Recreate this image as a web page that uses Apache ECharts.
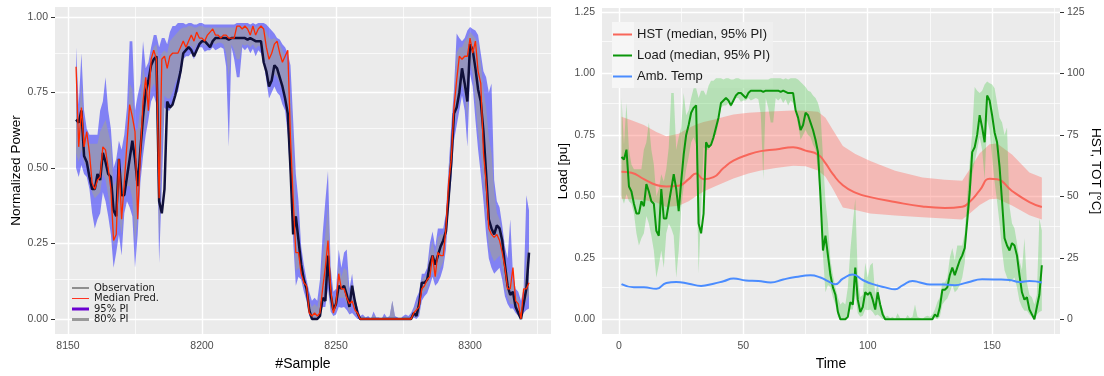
<!DOCTYPE html>
<html>
<head>
<meta charset="utf-8">
<script src="https://cdn.jsdelivr.net/npm/echarts@6/dist/echarts.min.js"></script>
<style>
  html, body { margin: 0; padding: 0; background: #ffffff; }
  #chart { width: 1104px; height: 376px; }
</style>
</head>
<body>
<div id="chart"></div>
<script>
// ---------------- Left panel: normalized power per sample ----------------
const firstSample = 8153;

const observation = [
  0.66,0.65,0.69,0.54,0.52,0.47,0.43,0.43,0.48,0.46,
  0.55,0.52,0.48,0.47,0.36,0.34,0.53,0.41,0.41,0.47,
  0.53,0.59,0.53,0.44,0.56,0.67,0.75,0.79,0.84,0.86,
  0.87,0.39,0.35,0.43,0.72,0.70,0.71,0.74,0.78,0.82,
  0.88,0.89,0.90,0.89,0.87,0.89,0.91,0.92,0.92,0.91,
  0.90,0.92,0.93,0.93,0.93,0.93,0.93,0.925,0.93,0.93,
  0.93,0.93,0.93,0.93,0.925,0.93,0.925,0.92,0.92,0.92,
  0.85,0.82,0.77,0.79,0.84,0.83,0.80,0.77,0.73,0.68,
  0.50,0.28,0.34,0.26,0.18,0.13,0.10,0.03,0.00,0.00,
  0.00,0.01,0.07,0.06,0.21,0.08,0.03,0.05,0.11,0.10,
  0.11,0.08,0.04,0.11,0.06,0.02,0.00,0.00,0.00,0.00,
  0.00,0.00,0.00,0.00,0.00,0.00,0.00,0.00,0.00,0.00,
  0.00,0.00,0.00,0.00,0.00,0.00,0.02,0.01,0.05,0.12,
  0.12,0.13,0.18,0.21,0.18,0.21,0.24,0.26,0.29,0.40,
  0.52,0.68,0.70,0.75,0.83,0.78,0.72,0.91,0.89,0.83,
  0.76,0.72,0.62,0.48,0.33,0.30,0.28,0.31,0.30,0.26,
  0.18,0.11,0.08,0.09,0.04,0.02,0.00,0.05,0.10,0.22
];

const medianPred = [
  0.835,0.57,0.70,0.57,0.62,0.55,0.45,0.43,0.46,0.47,
  0.57,0.56,0.50,0.43,0.26,0.28,0.53,0.33,0.45,0.58,
  0.71,0.67,0.62,0.33,0.55,0.72,0.80,0.69,0.86,0.89,
  0.86,0.40,0.86,0.87,0.83,0.87,0.88,0.88,0.88,0.90,
  0.92,0.90,0.92,0.94,0.92,0.95,0.93,0.93,0.92,0.94,
  0.95,0.96,0.94,0.94,0.93,0.94,0.94,0.93,0.93,0.93,
  0.97,0.97,0.96,0.97,0.96,0.94,0.97,0.94,0.96,0.97,
  0.96,0.90,0.86,0.88,0.91,0.92,0.88,0.85,0.87,0.89,
  0.60,0.40,0.22,0.22,0.15,0.12,0.11,0.02,0.01,0.02,
  0.01,0.02,0.10,0.17,0.26,0.10,0.02,0.05,0.15,0.10,
  0.10,0.07,0.05,0.06,0.03,0.02,0.00,0.00,0.00,0.00,
  0.00,0.00,0.00,0.00,0.00,0.00,0.00,0.00,0.00,0.00,
  0.00,0.00,0.00,0.00,0.00,0.00,0.02,0.03,0.04,0.10,
  0.11,0.13,0.14,0.21,0.14,0.22,0.21,0.21,0.30,0.45,
  0.53,0.70,0.79,0.87,0.86,0.87,0.87,0.93,0.88,0.92,
  0.82,0.78,0.55,0.45,0.30,0.28,0.27,0.28,0.26,0.22,
  0.17,0.10,0.10,0.17,0.06,0.05,0.00,0.10,0.10,0.12
];

const pi95High = [
  0.90,0.71,0.88,0.69,0.63,0.61,0.61,0.61,0.61,0.69,
  0.72,0.80,0.69,0.63,0.50,0.53,0.59,0.56,0.61,0.70,
  0.92,0.92,0.69,0.74,0.78,0.92,0.83,0.85,0.90,0.94,
  0.94,0.90,0.93,0.93,0.91,0.95,0.97,0.97,0.98,0.98,
  0.98,0.975,0.98,0.98,0.975,0.975,0.98,0.98,0.975,0.975,
  0.975,0.975,0.975,0.975,0.975,0.975,0.975,0.975,0.975,0.975,
  0.98,0.98,0.98,0.98,0.98,0.975,0.98,0.975,0.98,0.98,
  0.98,0.975,0.965,0.955,0.945,0.93,0.925,0.91,0.90,0.88,
  0.84,0.66,0.48,0.39,0.24,0.18,0.13,0.09,0.06,0.07,
  0.06,0.13,0.28,0.39,0.49,0.17,0.09,0.10,0.23,0.17,
  0.22,0.23,0.10,0.15,0.07,0.04,0.01,0.015,0.005,0.01,
  0.00,0.025,0.005,0.005,0.00,0.018,0.005,0.01,0.06,0.01,
  0.005,0.00,0.01,0.015,0.01,0.02,0.04,0.07,0.09,0.15,
  0.15,0.17,0.25,0.29,0.24,0.30,0.30,0.30,0.35,0.50,
  0.64,0.76,0.945,0.93,0.92,0.93,0.955,0.967,0.96,0.955,
  0.94,0.88,0.82,0.80,0.75,0.78,0.46,0.39,0.37,0.31,
  0.24,0.20,0.33,0.15,0.10,0.09,0.06,0.10,0.41,0.36
];

const pi95Low = [
  0.50,0.47,0.51,0.48,0.47,0.43,0.35,0.30,0.33,0.35,
  0.42,0.39,0.34,0.28,0.17,0.22,0.28,0.21,0.35,0.39,
  0.37,0.34,0.17,0.28,0.45,0.54,0.61,0.66,0.72,0.74,
  0.71,0.185,0.44,0.70,0.69,0.69,0.72,0.75,0.75,0.80,
  0.86,0.87,0.87,0.88,0.86,0.89,0.90,0.90,0.885,0.89,
  0.89,0.90,0.89,0.895,0.90,0.895,0.835,0.57,0.90,0.86,
  0.80,0.80,0.90,0.89,0.90,0.88,0.895,0.87,0.89,0.88,
  0.85,0.79,0.73,0.75,0.77,0.75,0.74,0.71,0.69,0.61,
  0.45,0.26,0.11,0.14,0.13,0.09,0.06,0.01,0.00,0.00,
  0.00,0.02,0.04,0.04,0.10,0.025,0.01,0.015,0.04,0.037,
  0.04,0.03,0.015,0.02,0.01,0.00,0.00,0.00,0.00,0.00,
  0.00,0.00,0.00,0.00,0.00,0.00,0.00,0.00,0.00,0.00,
  0.00,0.00,0.00,0.00,0.00,0.00,0.005,0.00,0.01,0.06,
  0.075,0.085,0.11,0.14,0.11,0.12,0.14,0.17,0.23,0.37,
  0.46,0.59,0.64,0.69,0.74,0.69,0.57,0.81,0.77,0.66,
  0.56,0.48,0.39,0.28,0.20,0.17,0.15,0.16,0.17,0.13,
  0.075,0.05,0.035,0.035,0.02,0.01,0.00,0.02,0.03,0.035
];

const pi80High = [
  0.80,0.65,0.78,0.62,0.59,0.58,0.58,0.58,0.58,0.62,
  0.64,0.66,0.62,0.58,0.44,0.46,0.52,0.48,0.53,0.62,
  0.78,0.76,0.62,0.63,0.70,0.84,0.78,0.80,0.87,0.90,
  0.91,0.86,0.88,0.89,0.88,0.92,0.93,0.94,0.95,0.96,
  0.965,0.965,0.97,0.97,0.965,0.965,0.97,0.97,0.965,0.965,
  0.965,0.965,0.965,0.965,0.965,0.965,0.965,0.965,0.965,0.965,
  0.97,0.97,0.97,0.97,0.97,0.965,0.97,0.965,0.97,0.97,
  0.965,0.95,0.93,0.925,0.93,0.92,0.91,0.89,0.87,0.85,
  0.74,0.55,0.38,0.30,0.20,0.15,0.11,0.06,0.04,0.05,
  0.04,0.08,0.20,0.28,0.38,0.13,0.06,0.08,0.18,0.14,
  0.17,0.16,0.08,0.12,0.05,0.03,0.005,0.01,0.003,0.005,
  0.00,0.015,0.003,0.003,0.00,0.01,0.003,0.008,0.06,0.005,
  0.003,0.00,0.005,0.01,0.005,0.01,0.03,0.05,0.07,0.13,
  0.14,0.15,0.22,0.26,0.21,0.27,0.28,0.28,0.32,0.48,
  0.60,0.72,0.88,0.90,0.90,0.92,0.93,0.95,0.94,0.93,
  0.91,0.85,0.76,0.70,0.60,0.55,0.42,0.35,0.33,0.28,
  0.21,0.16,0.14,0.12,0.08,0.07,0.04,0.08,0.20,0.24
];

const pi80Low = [
  0.55,0.52,0.56,0.52,0.50,0.47,0.42,0.40,0.41,0.42,
  0.48,0.46,0.41,0.36,0.24,0.28,0.34,0.28,0.40,0.44,
  0.44,0.40,0.25,0.34,0.50,0.60,0.66,0.70,0.76,0.78,
  0.76,0.26,0.55,0.74,0.73,0.73,0.75,0.78,0.80,0.84,
  0.89,0.895,0.90,0.905,0.89,0.91,0.915,0.915,0.905,0.91,
  0.91,0.915,0.91,0.915,0.915,0.91,0.88,0.80,0.91,0.89,
  0.86,0.86,0.91,0.905,0.91,0.90,0.91,0.895,0.905,0.90,
  0.87,0.82,0.77,0.79,0.81,0.80,0.78,0.76,0.73,0.66,
  0.52,0.32,0.16,0.17,0.15,0.11,0.08,0.02,0.00,0.00,
  0.00,0.02,0.05,0.06,0.14,0.04,0.015,0.03,0.07,0.07,
  0.07,0.05,0.02,0.06,0.02,0.01,0.00,0.00,0.00,0.00,
  0.00,0.00,0.00,0.00,0.00,0.00,0.00,0.00,0.00,0.00,
  0.00,0.00,0.00,0.00,0.00,0.00,0.01,0.005,0.02,0.08,
  0.09,0.10,0.13,0.16,0.13,0.15,0.17,0.19,0.26,0.40,
  0.49,0.63,0.68,0.74,0.78,0.74,0.66,0.85,0.81,0.72,
  0.62,0.55,0.45,0.35,0.24,0.21,0.19,0.20,0.21,0.17,
  0.10,0.07,0.05,0.05,0.03,0.02,0.00,0.04,0.06,0.08
];

// ---------------- Right panel: load, hot-spot and ambient temperature ----------------
// The load trace is the same observed sequence, indexed by time step 1..N.
const load = observation;
const loadLow = pi95Low;
const loadHigh = pi95High;

const hstTime   = [1, 5, 10, 15, 19, 24, 28, 31, 34, 38, 42, 46, 52, 57, 63, 70, 75, 80, 83, 86, 90, 95, 101, 111, 122, 131, 138, 141, 145, 149, 152, 158, 165, 170];
const hstMedian = [60.0, 59.6, 57.0, 54.6, 54.0, 54.3, 57.0, 59.3, 57.0, 57.8, 61.5, 64.5, 67.0, 68.4, 69.1, 70.0, 68.6, 67.0, 63.5, 59.0, 54.5, 51.5, 49.7, 47.7, 45.9, 45.3, 45.8, 47.8, 52.4, 57.2, 57.0, 52.2, 47.7, 45.7];
const hstHigh   = [82.4, 81.0, 79.0, 76.2, 74.4, 75.5, 77.8, 79.2, 80.2, 81.2, 82.3, 83.3, 84.0, 84.3, 84.6, 84.9, 84.8, 84.4, 82.0, 77.0, 70.5, 67.2, 64.4, 60.4, 57.7, 56.8, 56.4, 61.0, 67.5, 71.2, 71.5, 67.0, 59.7, 57.7];
const hstLow    = [49.0, 48.8, 48.5, 47.5, 45.7, 46.2, 48.0, 50.0, 52.0, 53.8, 55.5, 57.3, 59.3, 60.5, 61.5, 62.4, 62.2, 60.5, 58.0, 53.0, 45.5, 44.5, 43.0, 42.2, 41.5, 41.0, 40.6, 43.0, 46.5, 48.8, 49.0, 46.3, 42.3, 40.6];

const ambTime = [1, 6, 10, 15, 19, 23, 28, 33, 38, 42, 46, 51, 56, 61, 66, 71, 77, 81, 84, 87, 90, 94, 98, 102, 107, 111, 114, 118, 121, 125, 130, 135, 140, 146, 152, 157, 161, 165, 170];
const ambTemp = [14.3, 13.0, 13.0, 12.4, 14.8, 15.2, 14.5, 13.6, 14.5, 15.5, 16.6, 15.8, 15.6, 15.0, 16.2, 17.2, 17.9, 17.0, 15.5, 14.3, 16.5, 18.2, 16.0, 14.3, 13.0, 12.2, 13.8, 15.6, 15.0, 14.2, 14.2, 13.9, 15.0, 16.3, 16.2, 16.0, 15.2, 15.6, 15.0];

// ---------------- Axis ticks ----------------
const sampleTicks = [8150, 8200, 8250, 8300];
const sampleMinor = [8175, 8225, 8275, 8325];
const powerTicks  = [0, 0.25, 0.5, 0.75, 1];
const powerMinor  = [0.125, 0.375, 0.625, 0.875];
const timeTicks   = [0, 50, 100, 150];
const timeMinor   = [25, 75, 125, 175];
const loadTicks   = [0, 0.25, 0.5, 0.75, 1, 1.25];
const loadMinor   = [0.125, 0.375, 0.625, 0.875, 1.125];
const tempTicks   = [0, 25, 50, 75, 100, 125];

const sampleNo = observation.map((_, i) => firstSample + i);
const timeStep = load.map((_, i) => i + 1);
const pairs = (xs, ys) => xs.map((x, i) => [x, ys[i]]);

const FONT = 'Liberation Sans';
const PANEL_BG = '#EBEBEB';

// Filled band between two curves, drawn as one polygon through the axis scales.
function band(name, xs, lo, hi, fill, xi, yi) {
  return {
    name: name,
    type: 'custom',
    coordinateSystem: 'cartesian2d',
    xAxisIndex: xi, yAxisIndex: yi,
    clip: true,
    silent: true,
    itemStyle: { color: fill },
    data: [[xs[0], lo[0]]],
    renderItem: function (params, api) {
      const pts = [];
      for (let i = 0; i < xs.length; i++) pts.push(api.coord([xs[i], hi[i]]));
      for (let i = xs.length - 1; i >= 0; i--) pts.push(api.coord([xs[i], lo[i]]));
      return { type: 'polygon', shape: { points: pts }, style: { fill: fill } };
    }
  };
}

// White major/minor grid lines beneath the data.
function gridLines(xi, yi, xMajor, xMinor, yMajor, yMinor) {
  const major = { color: '#ffffff', width: 1.4, type: 'solid' };
  const minor = { color: '#ffffff', width: 0.7, type: 'solid' };
  return {
    type: 'line', xAxisIndex: xi, yAxisIndex: yi, data: [], z: 1, silent: true,
    markLine: {
      z: 1,
      silent: true, symbol: ['none', 'none'], label: { show: false }, animation: false,
      emphasis: { disabled: true },
      data: [].concat(
        xMinor.map(v => ({ xAxis: v, lineStyle: minor })),
        yMinor.map(v => ({ yAxis: v, lineStyle: minor })),
        xMajor.map(v => ({ xAxis: v, lineStyle: major })),
        yMajor.map(v => ({ yAxis: v, lineStyle: major }))
      )
    }
  };
}

function valueAxis(extra) {
  const ticks = extra.ticks;
  const base = {
    type: 'value',
    nameLocation: 'middle',
    nameTextStyle: { fontFamily: FONT, fontSize: 13.5, color: '#000' },
    axisLine: { show: false },
    axisTick: { show: true, length: 4, lineStyle: { color: '#333', width: 1 }, customValues: ticks },
    axisLabel: { customValues: ticks, color: '#4D4D4D', fontFamily: FONT, fontSize: 10.5, margin: 7,
                 formatter: extra.fmt || (v => String(v)) },
    splitLine: { show: false },
    minorSplitLine: { show: false }
  };
  delete extra.ticks; delete extra.fmt;
  return Object.assign(base, extra);
}

const thin = w => 'path://M0 0H' + w + 'V1H0Z';
const thick = w => 'path://M0 0H' + w + 'V3H0Z';
const mid = w => 'path://M0 0H' + w + 'V2H0Z';

const option = {
  animation: false,
  grid: [
    { left: 55, top: 7, width: 496, height: 327, show: true, backgroundColor: PANEL_BG, borderWidth: 0 },
    { left: 602, top: 8, width: 458, height: 331, show: true, backgroundColor: PANEL_BG, borderWidth: 0 }
  ],
  xAxis: [
    valueAxis({ gridIndex: 0, min: 8145.15, max: 8330.2, ticks: sampleTicks, name: '#Sample', nameGap: 20,
                nameTextStyle: { fontFamily: FONT, fontSize: 14, color: '#000' } }),
    valueAxis({ gridIndex: 1, min: -6.84, max: 177.3, ticks: timeTicks, name: 'Time', nameGap: 16,
                nameTextStyle: { fontFamily: FONT, fontSize: 14, color: '#000' } })
  ],
  yAxis: [
    valueAxis({ gridIndex: 0, min: -0.0497, max: 1.033, ticks: powerTicks, name: 'Normalized Power', nameGap: 32,
                fmt: v => v.toFixed(2) }),
    valueAxis({ gridIndex: 1, min: -0.0601, max: 1.266, ticks: loadTicks, name: 'Load [pu]', nameGap: 31,
                fmt: v => v.toFixed(2) }),
    valueAxis({ gridIndex: 1, position: 'right', min: -6.01, max: 126.6, ticks: tempTicks, name: 'HST, TOT [°C]',
                nameGap: 25, nameRotate: -90 })
  ],
  legend: [
    {
      orient: 'vertical', left: 72, top: 283, padding: 0, itemWidth: 17, itemHeight: 10, itemGap: 0.5,
      selectedMode: false,
      textStyle: { fontFamily: 'DejaVu Sans', fontSize: 10, color: '#1a1a1a', lineHeight: 10 },
      data: [
        { name: 'Observation',  icon: thin(17),  itemStyle: { color: '#333333', borderWidth: 0 } },
        { name: 'Median Pred.', icon: thin(17),  itemStyle: { color: '#ff3322', borderWidth: 0 } },
        { name: '95% PI',       icon: thick(17), itemStyle: { color: '#6a00d0', borderWidth: 0 } },
        { name: '80% PI',       icon: thick(17), itemStyle: { color: '#9a9a9a', borderWidth: 0 } }
      ]
    },
    {
      orient: 'vertical', left: 613, top: 28, padding: 0, itemWidth: 19, itemHeight: 14, itemGap: 8,
      selectedMode: false,
      textStyle: { fontFamily: FONT, fontSize: 13, color: '#1a1a1a' },
      data: [
        { name: 'HST (median, 95% PI)',  icon: mid(19), itemStyle: { color: '#f8665a', borderWidth: 0 } },
        { name: 'Load (median, 95% PI)', icon: mid(19), itemStyle: { color: '#0a960a', borderWidth: 0 } },
        { name: 'Amb. Temp',             icon: mid(19), itemStyle: { color: '#4a8cff', borderWidth: 0 } }
      ]
    }
  ],
  graphic: {
    elements: [
      // legend box and key column, above the grid lines and beneath the data
      { type: 'rect', left: 612, top: 22, z: 1.5, shape: { width: 161, height: 66 }, style: { fill: 'rgba(240,240,240,0.85)' } },
      { type: 'rect', left: 612, top: 22, z: 1.6, shape: { width: 22, height: 66 }, style: { fill: 'rgba(246,246,246,0.9)' } }
    ]
  },
  series: [
    gridLines(0, 0, sampleTicks, sampleMinor, powerTicks, powerMinor),
    gridLines(1, 1, timeTicks, timeMinor, loadTicks, loadMinor),

    // left panel
    band('95% PI', sampleNo, pi95Low, pi95High, 'rgba(0,0,255,0.45)', 0, 0),
    band('80% PI', sampleNo, pi80Low, pi80High, 'rgba(160,160,160,0.64)', 0, 0),
    { name: 'Observation', type: 'line', xAxisIndex: 0, yAxisIndex: 0, symbol: 'none', silent: true,
      lineStyle: { color: '#10103a', width: 2.5 }, itemStyle: { color: '#333' },
      data: pairs(sampleNo, observation) },
    { name: 'Median Pred.', type: 'line', xAxisIndex: 0, yAxisIndex: 0, symbol: 'none', silent: true,
      lineStyle: { color: '#ff2a00', width: 1.3 }, itemStyle: { color: '#ff3322' },
      data: pairs(sampleNo, medianPred) },

    // right panel
    band('HST band', hstTime, hstLow, hstHigh, 'rgba(255,110,100,0.4)', 1, 2),
    band('Load band', timeStep, loadLow, loadHigh, 'rgba(60,200,60,0.3)', 1, 1),
    { name: 'HST (median, 95% PI)', type: 'line', xAxisIndex: 1, yAxisIndex: 2, symbol: 'none', silent: true,
      smooth: true, lineStyle: { color: '#f8665a', width: 2 }, itemStyle: { color: '#f8665a' },
      data: pairs(hstTime, hstMedian) },
    { name: 'Load (median, 95% PI)', type: 'line', xAxisIndex: 1, yAxisIndex: 1, symbol: 'none', silent: true,
      lineStyle: { color: '#0a960a', width: 2 }, itemStyle: { color: '#0a960a' },
      data: pairs(timeStep, load) },
    { name: 'Amb. Temp', type: 'line', xAxisIndex: 1, yAxisIndex: 2, symbol: 'none', silent: true,
      smooth: true, lineStyle: { color: '#4a8cff', width: 2 }, itemStyle: { color: '#4a8cff' },
      data: pairs(ambTime, ambTemp) }
  ]
};

const chart = echarts.init(document.getElementById('chart'), null, { renderer: 'canvas' });
chart.setOption(option);
</script>
</body>
</html>
